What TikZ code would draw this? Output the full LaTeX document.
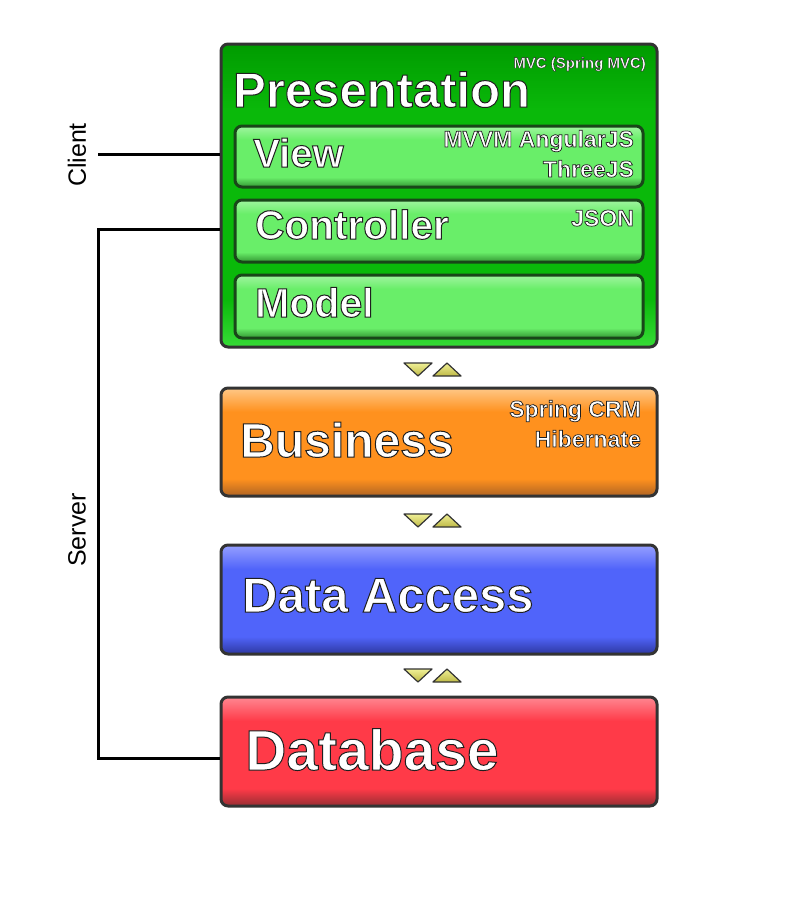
\documentclass[tikz,border=0pt]{standalone}
\usepackage{fontspec}
\setmainfont{Liberation Sans}
\usetikzlibrary{calc}
\definecolor{presTop}{RGB}{0,155,0}
\definecolor{presMid}{RGB}{10,185,10}
\definecolor{presBot}{RGB}{55,220,55}
\definecolor{subTop}{RGB}{160,245,160}
\definecolor{subMid}{RGB}{105,238,105}
\definecolor{subBot}{RGB}{50,150,50}
\definecolor{busTop}{RGB}{255,200,135}
\definecolor{busMid}{RGB}{255,145,30}
\definecolor{busBot}{RGB}{175,100,35}
\definecolor{daoTop}{RGB}{150,160,255}
\definecolor{daoMid}{RGB}{80,100,250}
\definecolor{daoBot}{RGB}{45,55,160}
\definecolor{dbTop}{RGB}{255,135,145}
\definecolor{dbMid}{RGB}{255,58,72}
\definecolor{dbBot}{RGB}{150,45,50}
\definecolor{triTop}{RGB}{240,240,150}
\definecolor{triBot}{RGB}{190,185,70}
\newcommand\declaregloss[4]{%
  \pgfdeclareverticalshading{#1}{100bp}{color(0bp)=(#2); color(25bp)=(#2);
    color(33bp)=(#3); color(64bp)=(#3); color(75bp)=(#4); color(100bp)=(#4)}}
\declaregloss{presgloss}{presBot}{presMid}{presTop}
\declaregloss{subgloss}{subBot}{subMid}{subTop}
\declaregloss{busgloss}{busBot}{busMid}{busTop}
\declaregloss{daogloss}{daoBot}{daoMid}{daoTop}
\declaregloss{dbgloss}{dbBot}{dbMid}{dbTop}
\newcommand\shtext[2][1]{\special{pdf:code 2 Tr #1 w 0.12 0.12 0.12 RG}#2\special{pdf:code 0 Tr}}
\tikzset{
  layer/.style={draw=black!80, line width=3pt, rounded corners=7pt, anchor=north west, inner sep=0pt},
  sublayer/.style={draw={rgb,255:red,25;green,70;blue,25}, line width=3pt, rounded corners=7pt,
    anchor=north west, inner sep=0pt, shading=subgloss},
  title/.style={text=white, anchor=base west, inner sep=0pt},
  note/.style={text=white, anchor=base east, inner sep=0pt, font=\bfseries\fontsize{23}{25}\selectfont},
  side/.style={rotate=90, inner sep=0pt, font=\fontsize{25}{27}\selectfont},
  tri/.style={draw=black!80, line width=1.2pt, line join=round, top color=triTop, bottom color=triBot}
}
\begin{document}
\begin{tikzpicture}[x=1pt, y=-1pt]
  \useasboundingbox (0,0) rectangle (800,900);
  \node[layer, shading=presgloss, minimum width=436pt, minimum height=303pt] (pres) at (219.5,42.5) {};
  \node[sublayer, minimum width=408pt, minimum height=61pt] (view) at (233.5,124.5) {};
  \node[sublayer, minimum width=408pt, minimum height=62pt] (ctrl) at (233.5,198.5) {};
  \node[sublayer, minimum width=408pt, minimum height=63pt] (model) at (233.5,273.5) {};
  \node[layer, shading=busgloss, minimum width=436pt, minimum height=108pt] (bus) at (219.5,386.5) {};
  \node[layer, shading=daogloss, minimum width=436pt, minimum height=109pt] (dao) at (219.5,543.5) {};
  \node[layer, shading=dbgloss, minimum width=436pt, minimum height=109pt] (db) at (219.5,695.5) {};

  \node[title, font=\bfseries\fontsize{49}{51}\selectfont] (presT) at (233,107) {\shtext{Presentation}};
  \node[note, font=\bfseries\fontsize{15}{17}\selectfont] (presN) at (646,68) {\shtext[0.4]{MVC (Spring MVC)}};
  \node[title, font=\bfseries\fontsize{40}{42}\selectfont] (viewT) at (253,167) {\shtext{View}};
  \node[note] (viewN1) at (634,147) {\shtext[0.7]{MVVM AngularJS}};
  \node[note] (viewN2) at (634,177) {\shtext[0.7]{ThreeJS}};
  \node[title, font=\bfseries\fontsize{40.5}{42}\selectfont] (ctrlT) at (255,239) {\shtext{Controller}};
  \node[note] (ctrlN) at (634,226) {\shtext[0.7]{JSON}};
  \node[title, font=\bfseries\fontsize{41}{43}\selectfont] (modelT) at (255,317) {\shtext{Model}};
  \node[title, font=\bfseries\fontsize{48}{50}\selectfont] (busT) at (240,457) {\shtext{Business}};
  \node[note] (busN1) at (641,417) {\shtext[0.7]{Spring CRM}};
  \node[note] (busN2) at (641,447) {\shtext[0.7]{Hibernate}};
  \node[title, font=\bfseries\fontsize{49}{51}\selectfont] (daoT) at (242,612) {\shtext{Data Access}};
  \node[title, font=\bfseries\fontsize{57}{59}\selectfont] (dbT) at (245,770) {\shtext{Database}};

  \node[side] (client) at (77,155) {Client};
  \node[side] (server) at (77,530) {Server};
  \coordinate (cl) at (98,154);
  \coordinate (sv) at (98,229);
  \coordinate (svb) at (98,758);
  \draw[line width=3pt] (cl) -- (cl -| pres.west);
  \draw[line width=3pt] (sv -| pres.west) -- (sv) -- (svb) -- (svb -| db.west);

  \foreach \ty in {369,520,675}{
    \draw[tri] (404,\ty-6) -- (432,\ty-6) -- (418,\ty+7) -- cycle;
    \draw[tri] (433,\ty+7) -- (461,\ty+7) -- (447,\ty-6) -- cycle;
  }
\end{tikzpicture}
\end{document}
